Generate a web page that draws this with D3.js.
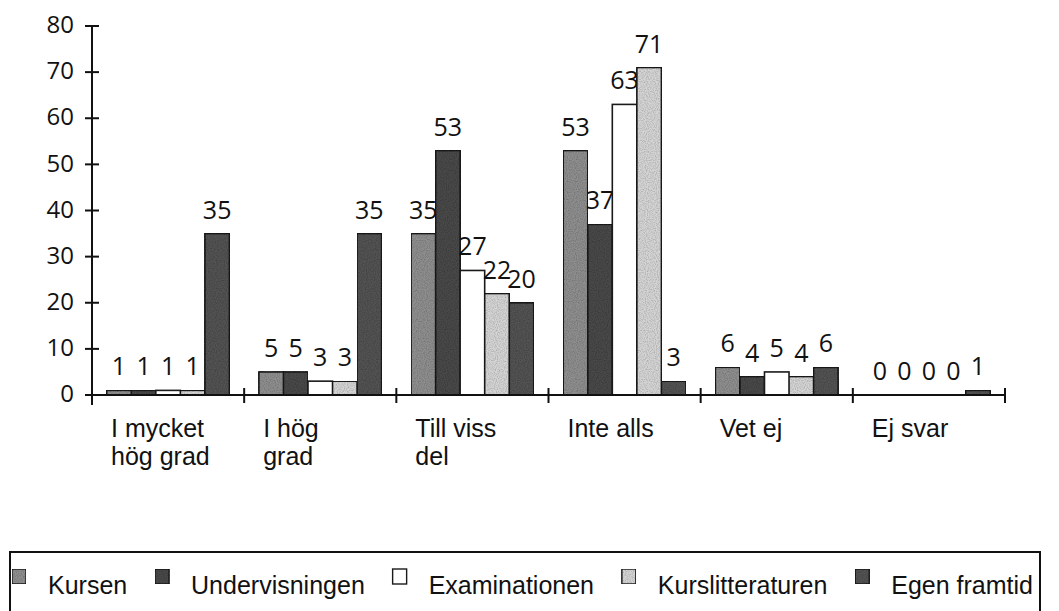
<!DOCTYPE html>
<html>
<head>
<meta charset="utf-8">
<script src="https://cdn.jsdelivr.net/npm/d3@7"></script>
<style>
  body { margin: 0; background: #fff; }
  svg { display: block; }
</style>
</head>
<body>
<div id="chart"></div>
<script>
var categories = ["I mycket hög grad", "I hög grad", "Till viss del", "Inte alls", "Vet ej", "Ej svar"]
var seriesNames = ["Kursen", "Undervisningen", "Examinationen", "Kurslitteraturen", "Egen framtid"]
var kursen = [1, 5, 35, 53, 6, 0]
var undervisningen = [1, 5, 53, 37, 4, 0]
var examinationen = [1, 3, 27, 63, 5, 0]
var kurslitteraturen = [1, 3, 22, 71, 4, 0]
var egenFramtid = [35, 35, 20, 3, 6, 1]
var yTicks = [0, 10, 20, 30, 40, 50, 60, 70, 80]

var seriesValues = [kursen, undervisningen, examinationen, kurslitteraturen, egenFramtid]
var colors = ["#8e8e8e", "#4a4a4a", "#ffffff", "#d4d4d4", "#525252"]
var grainy = [true, true, false, true, true]

var W = 1059, H = 611
var margin = {top: 26, left: 92, right: 54, bottom: 216}
var width = W - margin.left - margin.right,
    height = H - margin.top - margin.bottom

var svg = d3.select("#chart")
    .append("svg")
      .attr("width", W)
      .attr("height", H)

// speckled "scanned" look for the gray fills
var filt = svg.append("defs").append("filter")
    .attr("id", "grain")
    .attr("x", 0).attr("y", 0).attr("width", "100%").attr("height", "100%")
filt.append("feTurbulence")
    .attr("type", "fractalNoise")
    .attr("baseFrequency", 0.9)
    .attr("numOctaves", 1)
    .attr("seed", 3)
    .attr("result", "noise")
filt.append("feColorMatrix")
    .attr("in", "noise")
    .attr("type", "matrix")
    .attr("values", "0 0 0 0 0  0 0 0 0 0  0 0 0 0 0  0.9 0 0 0 -0.35")
    .attr("result", "spots")
filt.append("feComposite")
    .attr("in", "spots").attr("in2", "SourceGraphic")
    .attr("operator", "in")
    .attr("result", "spots2")
var fm = filt.append("feMerge")
fm.append("feMergeNode").attr("in", "SourceGraphic")
fm.append("feMergeNode").attr("in", "spots2")

var g = svg.append("g")
    .attr("transform", "translate(" + margin.left + "," + margin.top + ")")

var x0 = d3.scaleBand()
    .domain(categories)
    .range([0, width])
    .padding(0)

var x1 = d3.scaleBand()
    .domain(seriesNames)
    .range([0, x0.bandwidth()])
    .paddingInner(0)
    .paddingOuter(0.6)

var y = d3.scaleLinear()
    .domain([0, 80])
    .range([height, 0])

// bars and value labels, series by series (later bars cover earlier labels)
seriesNames.forEach(function(name, si) {
    var vals = seriesValues[si]
    var sg = g.append("g")
    sg.selectAll("rect")
        .data(vals)
        .enter()
        .append("rect")
        .attr("x", function(d, i) { return x0(categories[i]) + x1(name); })
        .attr("y", function(d) { return y(d); })
        .attr("width", x1.bandwidth())
        .attr("height", function(d) { return y(0) - y(d); })
        .attr("fill", colors[si])
        .attr("filter", grainy[si] ? "url(#grain)" : null)
        .attr("stroke", function(d) { return d > 0 ? "#1a1a1a" : "none"; })
        .attr("stroke-width", 1.6)
    sg.selectAll("text")
        .data(vals)
        .enter()
        .append("text")
        .attr("x", function(d, i) { return x0(categories[i]) + x1(name) + x1.bandwidth() / 2; })
        .attr("y", function(d) { return y(d) - 15; })
        .attr("text-anchor", "middle")
        .style("font-family", "'Open Sans', sans-serif")
        .style("font-size", "25px")
        .attr("fill", "#111")
        .text(function(d) { return d; })
})

// y axis
var yAxis = g.append("g")
yAxis.append("line")
    .attr("x1", 0).attr("x2", 0)
    .attr("y1", y(80)).attr("y2", y(0) + 10)
    .attr("stroke", "#111").attr("stroke-width", 2)
yAxis.selectAll(".yt")
    .data(yTicks)
    .enter()
    .append("line")
    .attr("x1", -7).attr("x2", 7)
    .attr("y1", function(d) { return y(d); })
    .attr("y2", function(d) { return y(d); })
    .attr("stroke", "#111").attr("stroke-width", 2)
yAxis.selectAll("text")
    .data(yTicks)
    .enter()
    .append("text")
    .attr("x", -18)
    .attr("y", function(d) { return y(d); })
    .attr("dy", "0.3em")
    .attr("text-anchor", "end")
    .style("font-family", "'Open Sans', sans-serif")
    .style("font-size", "24px")
    .attr("fill", "#111")
    .text(function(d) { return d; })

// x axis
var xAxis = g.append("g")
xAxis.append("line")
    .attr("x1", 0).attr("x2", width)
    .attr("y1", y(0)).attr("y2", y(0))
    .attr("stroke", "#111").attr("stroke-width", 2)
var bounds = categories.map(function(c) { return x0(c); }).concat([width])
xAxis.selectAll(".xt")
    .data(bounds)
    .enter()
    .append("line")
    .attr("x1", function(d) { return d; })
    .attr("x2", function(d) { return d; })
    .attr("y1", y(0) - 7).attr("y2", y(0) + 8)
    .attr("stroke", "#111").attr("stroke-width", 2)

// category labels, wrapped
function wrapLines(textSel, label, maxW) {
    var words = label.split(" "), lines = [], cur = ""
    words.forEach(function(w) {
        var test = cur ? cur + " " + w : w
        textSel.text(test)
        if (cur && textSel.node().getComputedTextLength() > maxW) {
            lines.push(cur); cur = w
        } else {
            cur = test
        }
    })
    lines.push(cur)
    textSel.text(null)
    return lines
}
categories.forEach(function(c) {
    var t = g.append("text")
        .attr("x", x0(c) + 19)
        .attr("y", y(0) + 42)
        .style("font-family", "'Liberation Sans', Arial, sans-serif")
        .style("font-size", "25px")
        .attr("fill", "#111")
    var lines = wrapLines(t, c, 105)
    lines.forEach(function(l, i) {
        t.append("tspan")
            .attr("x", x0(c) + 19)
            .attr("dy", i === 0 ? 0 : 28)
            .text(l)
    })
})

// legend
var legLeft = 10, legRight = 1040, legTop = 552
svg.append("rect")
    .attr("x", legLeft).attr("y", legTop)
    .attr("width", legRight - legLeft).attr("height", 80)
    .attr("fill", "none")
    .attr("stroke", "#111").attr("stroke-width", 2)

var leg = svg.append("g")
var items = leg.selectAll("g")
    .data(seriesNames)
    .enter()
    .append("g")
items.append("rect")
    .attr("width", 14).attr("height", 15)
    .attr("y", 569)
    .attr("fill", function(d, i) { return colors[i]; })
    .attr("filter", function(d, i) { return grainy[i] ? "url(#grain)" : null; })
    .attr("stroke", "#1a1a1a").attr("stroke-width", 1.4)
items.append("text")
    .attr("y", 594)
    .style("font-family", "'Liberation Sans', Arial, sans-serif")
    .style("font-size", "25px")
    .attr("fill", "#111")
    .text(function(d) { return d; })

var widths = []
items.select("text").each(function() { widths.push(this.getComputedTextLength()); })
var swGap = 36
var startX = 12, endX = 1033
var total = d3.sum(widths) + swGap * seriesNames.length
var gap = (endX - startX - total) / (seriesNames.length - 1)
var cx = startX
items.each(function(d, i) {
    var it = d3.select(this)
    it.select("rect").attr("x", cx)
    it.select("text").attr("x", cx + swGap)
    cx += swGap + widths[i] + gap
})
</script>
</body>
</html>
